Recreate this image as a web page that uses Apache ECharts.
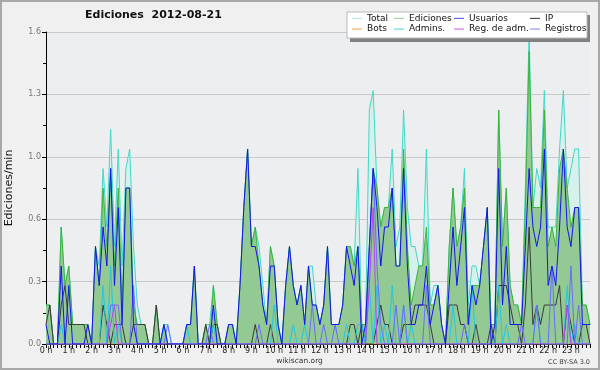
<!DOCTYPE html>
<html><head><meta charset="utf-8">
<script src="https://cdn.jsdelivr.net/npm/echarts@6/dist/echarts.min.js"></script>
<style>html,body{margin:0;padding:0;background:#f0f0f0}#c{width:600px;height:370px}</style>
</head><body><div id="c"></div>
<script>
// hour tick labels
const hourLabels = ['0 h','1 h','2 h','3 h','4 h','5 h','6 h','7 h','8 h','9 h','10 h','11 h',
  '12 h','13 h','14 h','15 h','16 h','17 h','18 h','19 h','20 h','21 h','22 h','23 h'];
// categories: 10-minute slots of 2012-08-21
const categories = [];
for (let h = 0; h < 24; h++) for (let m = 0; m < 60; m += 10)
  categories.push((h < 10 ? '0' : '') + h + ':' + (m === 0 ? '00' : m));

const total = [
 0.2,0.2,0,0,0.6,0.3, 0.4,0.1,0.1,0.1,0.1,0.1,
 0,0.5,0.4,0.9,0.6,1.1, 0.5,1.0,0.4,0.9,1.0,0.5,
 0.2,0.1,0.1,0,0,0.2, 0,0.1,0.1,0,0,0,
 0,0.1,0.1,0.4,0,0, 0.1,0.1,0.3,0.1,0,0,
 0.1,0.1,0,0.3,0.7,1.0, 0.5,0.6,0.5,0.3,0.1,0.5,
 0.4,0.1,0,0.3,0.5,0.3, 0.2,0.3,0.1,0.4,0.4,0.2,
 0.1,0.2,0.5,0.1,0.1,0.1, 0.2,0.5,0.5,0.4,0.9,0.1,
 0.1,1.2,1.3,0.8,0.6,0.7, 0.7,1.0,0.5,0.6,1.2,0.7,
 0.5,0.5,0.4,0.4,1.0,0.2, 0.3,0.3,0.1,0,0.5,0.8,
 0.5,0.6,0.9,0.2,0.4,0.4, 0.3,0.5,0.7,0.1,0.1,1.2,
 0.5,0.8,0.3,0.2,0.2,0.1, 0.8,1.6,0.7,0.9,0.8,1.3,
 0.6,0.6,0.6,1.0,1.3,0.8, 0.9,1.0,1.0,0.2,0.2,0.1];
const ediciones = [
 0.2,0.2,0,0,0.6,0.3, 0.4,0.1,0.1,0.1,0.1,0.1,
 0,0.5,0.3,0.8,0.5,0.9, 0.4,0.8,0.2,0.8,0.8,0.2,
 0.1,0.1,0.1,0,0,0.2, 0,0.1,0,0,0,0,
 0,0.1,0.1,0.4,0,0, 0.1,0,0.3,0.1,0,0,
 0.1,0.1,0,0.3,0.7,1.0, 0.5,0.6,0.4,0.2,0.1,0.5,
 0.4,0.1,0,0.3,0.5,0.3, 0.2,0.3,0.1,0.4,0.2,0.2,
 0.1,0.2,0.5,0.1,0.1,0.1, 0.2,0.5,0.5,0.4,0.5,0.1,
 0.1,0.5,0.9,0.8,0.6,0.7, 0.7,0.8,0.4,0.4,1.0,0.5,
 0.2,0.3,0.4,0.4,0.6,0.2, 0.2,0.3,0.1,0,0.5,0.8,
 0.5,0.6,0.8,0.1,0.3,0.3, 0.3,0.5,0.7,0.1,0.1,1.2,
 0.5,0.8,0.3,0.2,0.2,0.1, 0.7,1.5,0.7,0.7,0.7,1.2,
 0.5,0.6,0.5,0.9,1.0,0.8, 0.6,0.7,0.7,0.2,0.2,0.1];
const usuarios = [
 0.1,0,0,0,0.4,0, 0.3,0,0,0,0,0.1,
 0,0.5,0.3,0.6,0.4,0.9, 0.3,0.7,0.1,0.8,0.8,0.1,
 0,0,0,0,0,0, 0,0.1,0,0,0,0,
 0,0.1,0.1,0.4,0,0, 0,0,0.2,0,0,0,
 0.1,0.1,0,0.3,0.7,1.0, 0.5,0.5,0.4,0.2,0.1,0.4,
 0.4,0.1,0,0.3,0.5,0.3, 0.2,0.3,0.1,0.4,0.2,0.2,
 0.1,0.2,0.5,0.1,0.1,0.1, 0.2,0.5,0.4,0.3,0.5,0,
 0.1,0.5,0.9,0.7,0.4,0.6, 0.6,0.8,0.4,0.4,0.9,0.4,
 0.1,0.1,0.2,0.2,0.4,0.1, 0.2,0.3,0.1,0,0.3,0.6,
 0.3,0.5,0.7,0.1,0.3,0.2, 0.3,0.5,0.7,0,0.1,0.9,
 0.2,0.5,0.1,0.1,0.1,0.1, 0.5,0.9,0.6,0.5,0.6,1.0,
 0.3,0.4,0.3,0.6,1.0,0.6, 0.5,0.7,0.7,0.1,0.1,0.1];
const ip = [
 0.1,0.2,0,0,0.2,0.3, 0.1,0.1,0.1,0.1,0.1,0,
 0,0,0,0.2,0.1,0, 0.1,0.1,0.1,0,0,0.1,
 0.1,0.1,0.1,0,0,0.2, 0,0,0,0,0,0,
 0,0,0,0,0,0, 0.1,0,0.1,0.1,0,0,
 0,0,0,0,0,0, 0,0.1,0,0,0,0.1,
 0,0,0,0,0,0, 0,0,0,0,0,0,
 0,0,0,0,0,0, 0,0,0.1,0.1,0,0.1,
 0,0,0,0.1,0.2,0.1, 0.1,0,0,0,0.1,0.1,
 0.1,0.2,0.2,0.2,0.2,0.1, 0,0,0,0,0.2,0.2,
 0.2,0.1,0.1,0,0,0.1, 0,0,0,0.1,0,0.3,
 0.3,0.3,0.2,0.1,0.1,0, 0.2,0.6,0.1,0.2,0.1,0.2,
 0.2,0.2,0.2,0.3,0,0.2, 0.1,0,0,0.1,0.1,0];
const bots = [
 0,0,0,0,0,0, 0,0,0,0,0,0,  0,0,0,0,0,0, 0,0,0,0,0,0,
 0,0,0,0,0,0, 0,0,0,0,0,0,  0,0,0,0,0,0, 0,0,0,0,0,0,
 0,0,0,0,0,0, 0,0,0,0,0,0,  0,0,0,0,0,0, 0,0,0,0,0,0,
 0,0,0,0,0,0, 0,0,0,0,0,0,  0,0,0,0,0,0, 0,0,0,0,0,0,
 0,0,0,0,0,0, 0,0,0,0,0,0,  0,0,0,0,0,0, 0,0,0,0,0,0,
 0,0,0,0,0,0, 0,0,0,0,0,0,  0,0,0,0,0,0, 0,0,0,0,0,0];
const admins = [
 0,0,0,0,0.1,0, 0,0,0,0,0,0,
 0,0,0,0.3,0,0.4, 0,0.1,0,0,0,0,
 0,0,0,0,0,0, 0,0.1,0,0,0,0,
 0,0.1,0,0,0,0, 0,0,0.1,0,0,0,
 0,0,0,0,0,0, 0,0,0,0,0,0,
 0.2,0,0,0,0,0.1, 0,0,0.1,0,0,0,
 0,0,0,0,0,0, 0,0.1,0,0,0.1,0.1,
 0,0.3,0,0.3,0,0.1, 0,0.3,0,0,0.2,0,
 0.1,0,0,0,0,0, 0,0,0,0,0,0.2,
 0,0,0,0,0.3,0, 0,0,0,0,0,0.3,
 0,0.1,0,0,0,0, 0,0,0,0.2,0,0,
 0,0,0,0,0,0.3, 0,0.1,0,0,0,0];
const regAdm = [
 0,0,0,0,0,0, 0,0,0,0,0,0,
 0,0,0,0,0,0.1, 0.2,0,0,0,0,0,
 0,0,0,0,0,0, 0,0,0,0,0,0,
 0,0,0,0,0,0, 0,0,0,0,0,0,
 0,0,0,0,0,0, 0,0,0,0,0,0,
 0,0,0,0,0,0, 0,0,0,0,0,0,
 0,0,0,0,0,0, 0,0,0,0,0,0,
 0,0.3,0.7,0,0,0, 0,0,0,0,0,0,
 0,0,0,0,0,0, 0,0,0,0,0,0,
 0,0,0,0,0,0, 0,0,0,0,0,0,
 0,0,0,0,0,0, 0,0,0,0,0,0,
 0,0,0,0,0,0.2, 0,0,0,0,0,0];
const registros = [
 0,0,0,0,0,0, 0,0,0,0,0,0,
 0,0,0,0,0,0.2, 0.2,0.2,0,0,0,0.3,
 0,0,0,0,0,0, 0,0,0.1,0,0,0,
 0,0,0,0,0,0, 0,0.1,0,0,0,0,
 0,0,0,0,0,0, 0,0,0.1,0,0,0,
 0,0,0,0,0,0, 0,0,0,0,0.2,0,
 0,0.1,0,0,0.1,0, 0,0,0,0,0,0,
 0,0.5,0.9,0.4,0.1,0, 0,0,0.2,0,0.2,0,
 0,0,0,0,0.3,0, 0,0,0,0,0,0,
 0,0,0.1,0,0,0, 0,0,0,0,0,0,
 0,0,0,0,0,0.1, 0,0,0,0.2,0,0,
 0,0.4,0,0,0,0, 0.4,0,0.2,0,0,0];

const chart = echarts.init(document.getElementById('c'), null, {width: 600, height: 370});
function line(name, data, color, extra) {
  return Object.assign({
    name, type: 'line', data, showSymbol: false, symbol: 'none', animation: false,
    lineStyle: {color, width: 1}, itemStyle: {color}
  }, extra || {});
}
const legendBase = {
  orient: 'vertical', top: 13, padding: 0, itemGap: 0, itemWidth: 10, itemHeight: 1,
  icon: 'rect', selectedMode: false, z: 30,
  textStyle: {fontFamily: 'DejaVu Sans', fontSize: 9, color: '#111', lineHeight: 10.7}
};
function lg(left, items) {
  return Object.assign({}, legendBase, {left, data: items.map(([name, c]) => ({name, itemStyle: {color: c}}))});
}
chart.setOption({
  backgroundColor: '#f0f0f0',
  animation: false,
  textStyle: {fontFamily: 'DejaVu Sans'},
  title: {text: 'Ediciones  2012-08-21', left: 85, top: 10, padding: 0,
    textStyle: {fontFamily: 'DejaVu Sans', fontSize: 11, fontWeight: 'bold', color: '#111'}},
  grid: {left: 46, right: 10, top: 32, bottom: 26, show: true, backgroundColor: '#eceef0', borderWidth: 0,
    containLabel: false, outerBoundsMode: 'none'},
  legend: [
    lg(352, [['Total', '#a8e4e4'], ['Bots', '#f0a040']]),
    lg(394, [['Ediciones', '#90d090'], ['Admins.', '#40d0e0']]),
    lg(454, [['Usuarios', '#4848e8'], ['Reg. de adm.', '#d050e8']]),
    lg(530, [['IP', '#303030'], ['Registros', '#8080f0']])
  ],
  xAxis: {
    type: 'category', data: categories, boundaryGap: false,
    axisLine: {lineStyle: {color: '#000', width: 1}},
    axisTick: {show: true, interval: 0, length: 4, lineStyle: {color: '#000'}},
    axisLabel: {interval: (i) => i % 6 === 0, formatter: (v, i) => hourLabels[i / 6],
      fontSize: 8, color: '#222', margin: 3},
    splitLine: {show: false}
  },
  yAxis: {
    type: 'value', min: 0, max: 1.6, interval: 0.32,
    name: 'Ediciones/min', nameLocation: 'middle', nameGap: 31,
    nameTextStyle: {fontSize: 11, color: '#111'},
    axisLine: {show: true, lineStyle: {color: '#000'}},
    axisTick: {show: true, length: 4, lineStyle: {color: '#000'}},
    minorTick: {show: true, splitNumber: 2, length: 3, lineStyle: {color: '#000'}},
    axisLabel: {formatter: (v) => v.toFixed(1), fontSize: 8, color: '#777', margin: 5},
    splitLine: {lineStyle: {color: '#c9c9c9'}}
  },
  graphic: [
    {type: 'rect', z: 25, shape: {x: 350, y: 15, width: 240, height: 27}, style: {fill: '#808080'}},
    {type: 'rect', z: 26, shape: {x: 347, y: 12, width: 240, height: 26}, style: {fill: '#ffffff', stroke: '#b8b8b8', lineWidth: 1}},
    {type: 'text', z: 30, x: 299.5, y: 361.5, style: {text: 'wikiscan.org', font: '7.5px DejaVu Sans', fill: '#333', textAlign: 'center', textVerticalAlign: 'middle'}},
    {type: 'text', z: 30, x: 590, y: 362.5, style: {text: 'CC BY-SA 3.0', font: '6.5px DejaVu Sans', fill: '#444', textAlign: 'right', textVerticalAlign: 'middle'}},
    {type: 'rect', z: 40, shape: {x: 1, y: 1, width: 598, height: 368}, style: {fill: 'none', stroke: '#a8a8a8', lineWidth: 2}}
  ],
  series: [
    line('Total', total, '#40d8c8', {areaStyle: {color: '#d6f1ec', opacity: 1}, z: 2}),
    line('Ediciones', ediciones, '#3cb43c', {areaStyle: {color: '#93c993', opacity: 1}, z: 3}),
    line('Usuarios', usuarios, '#1515f0', {z: 6}),
    line('IP', ip, '#3a3a3a', {z: 5}),
    line('Bots', bots, '#f0a040', {z: 4}),
    line('Admins.', admins, '#22c8e0', {z: 5}),
    line('Reg. de adm.', regAdm, '#c040f0', {z: 5}),
    line('Registros', registros, '#6c6cff', {z: 5})
  ]
});
</script></body></html>
